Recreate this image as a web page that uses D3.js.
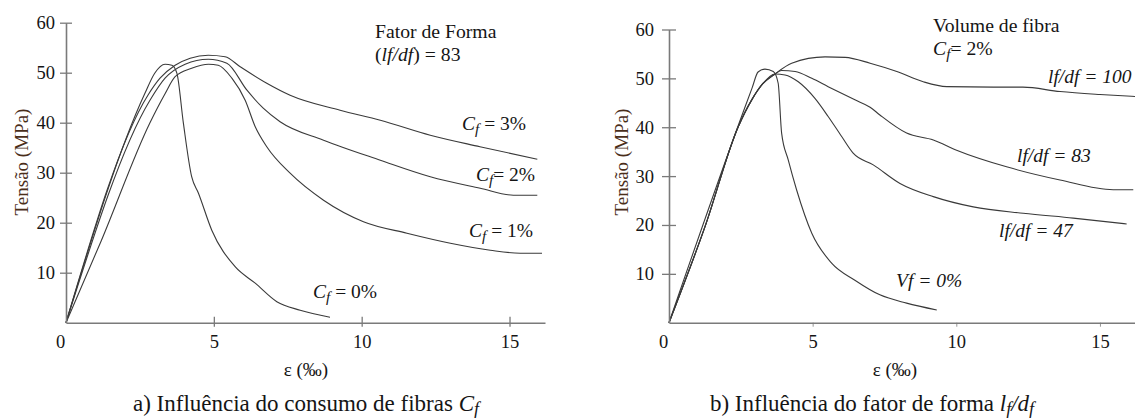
<!DOCTYPE html>
<html>
<head>
<meta charset="utf-8">
<script src="https://cdn.jsdelivr.net/npm/d3@7"></script>
<style>
  html, body { margin: 0; padding: 0; background: #fff; }
  svg, svg text { font-family: "Liberation Serif", Tinos, "Times New Roman", Times, serif; }
</style>
</head>
<body>
<svg id="chart" width="1135" height="418"></svg>
<script>
// Axis ticks (strain in per mille, stress in MPa)
const strainTicks = [0, 5, 10, 15];
const stressTicks = [10, 20, 30, 40, 50, 60];

// a) Fibre content C_f, aspect ratio lf/df = 83  — [strain ‰, stress MPa]
const cf0 = [[0,0],[2.67,45.9],[3.0,49.9],[3.35,51.7],[3.58,51.5],[3.75,49.9],[3.97,39.9],[4.25,29.2],[4.48,25.9],[4.93,18.5],[5.72,11.2],[6.4,7.9],[7.13,4.2],[7.92,2.5],[8.93,1.1]];
const cf1 = [[0,0],[1.2,16.5],[2.84,40],[3.35,45.8],[3.69,49.2],[4.25,50.9],[4.82,51.7],[5.15,51.5],[5.61,48.9],[6.06,44.5],[6.4,39.2],[6.79,35.2],[7.58,29.9],[8.71,24.5],[10.06,20.2],[11.53,17.9],[13.0,15.9],[14.35,14.5],[15.36,13.9],[16.1,13.9]];
const cf2 = [[0,0],[2.84,44.5],[3.35,48.9],[4.03,51.7],[4.81,52.7],[5.44,51.9],[6.12,46.5],[6.67,42.9],[7.24,40.2],[8.71,36.5],[10.63,32.5],[12.32,29.2],[14.01,26.9],[15.13,25.5],[15.94,25.5]];
const cf3 = [[0,0],[2.77,45.5],[3.18,48.9],[3.69,51.5],[4.2,52.9],[4.81,53.5],[5.38,53.2],[5.89,51.2],[6.79,47.9],[7.58,45.5],[9.27,42.5],[10.63,40.5],[12.32,37.5],[14.0,35.2],[15.94,32.7]];

// b) Aspect ratio lf/df, fibre content C_f = 2%
const vf0 = [[0,0],[2.65,44.2],[2.89,48.0],[3.1,51.3],[3.34,51.9],[3.63,51.4],[3.8,49.0],[3.92,38.8],[4.15,33.3],[4.44,27.2],[4.97,18.3],[5.66,12.2],[6.47,8.7],[7.34,5.7],[8.27,4.0],[9.32,2.6]];
const lfdf47 = [[0,0],[1.25,19.6],[2.41,40.1],[2.88,45.6],[3.25,48.8],[3.69,50.9],[4.04,50.7],[4.5,49.3],[5.08,45.9],[5.54,42.2],[6.01,38.1],[6.41,34.7],[7.11,32.3],[8.04,28.5],[9.2,25.8],[10.59,23.7],[12.33,22.4],[14.07,21.4],[15.93,20.2]];
const lfdf83 = [[0,0],[1.25,19.6],[2.41,40.1],[2.88,45.6],[3.25,48.8],[3.69,50.9],[3.92,51.6],[4.39,51.4],[4.97,50.0],[5.54,48.3],[6.47,45.6],[7.0,44.1],[7.34,42.5],[8.27,38.8],[9.2,37.4],[10.01,35.3],[11.75,31.9],[13.61,29.2],[15.46,27.2],[16.16,27.2]];
const lfdf100 = [[0,0],[1.25,19.6],[2.41,40.1],[2.88,45.6],[3.25,48.8],[3.69,50.9],[4.27,53.1],[5.43,54.4],[6.13,54.3],[7.0,53.1],[7.93,51.4],[8.85,49.3],[9.67,48.3],[11.29,48.2],[12.32,48.2],[13.61,47.3],[15.0,46.7],[16.22,46.3]];

const FONT = '"Liberation Serif", Tinos, "Times New Roman", Times, serif';
const svg = d3.select("#chart");
const axisColor = "#7a7a7a";
const lineColor = "#3a3a3a";
const textColor = "#151515";

function drawPanel(opt) {
  const x = d3.scaleLinear().domain(opt.xDomain).range(opt.xRange);
  const y = d3.scaleLinear().domain([0, 60]).range(opt.yRange);
  const g = svg.append("g");

  // curves
  const line = d3.line().x(d => x(d[0])).y(d => y(d[1])).curve(d3.curveMonotoneX);
  g.selectAll("path.curve").data(opt.series).join("path")
    .attr("class", "curve")
    .attr("d", d => line(d))
    .attr("fill", "none")
    .attr("stroke", lineColor)
    .attr("stroke-width", 1.1);

  // y axis, ticks crossing the axis line
  const yAxis = d3.axisLeft(y).tickValues(stressTicks).tickSize(opt.yTick).tickSizeOuter(0).tickPadding(opt.yPad);
  const gy = g.append("g").attr("transform", `translate(${x(0)},0)`).call(yAxis);
  gy.selectAll(".tick line").attr("x1", opt.yTick);
  // x axis
  const xAxis = d3.axisBottom(x).tickValues(strainTicks).tickSize(opt.xTickDown).tickSizeOuter(0).tickPadding(opt.xPad);
  const gx = g.append("g").attr("transform", `translate(0,${y(0)})`).call(xAxis);
  gx.selectAll(".tick line").attr("y1", -opt.xTickUp).attr("stroke-width", opt.xTickWidth);
  gx.selectAll(".tick").filter(d => d === 0).select("line").remove();
  gx.selectAll(".tick").filter(d => d === 0).select("text").attr("dx", -6);

  [gy, gx].forEach(a => {
    a.attr("font-family", FONT);
    a.select(".domain").attr("stroke", axisColor).attr("stroke-width", 1.6);
    a.selectAll(".tick line").attr("stroke", axisColor);
    a.selectAll(".tick text").attr("fill", textColor).attr("font-size", 18.5).attr("font-family", FONT);
  });
  gy.selectAll(".tick line").attr("stroke-width", 1.3);

  // axis titles
  g.append("text")
    .attr("transform", `translate(${opt.yTitleX},${opt.yTitleY}) rotate(-90)`)
    .attr("text-anchor", "middle")
    .attr("fill", "#4a2e1a")
    .attr("font-family", FONT)
    .attr("font-size", 19)
    .text("Tensão (MPa)");
  g.append("text")
    .attr("x", opt.xTitleX).attr("y", 376)
    .attr("text-anchor", "middle")
    .attr("fill", textColor)
    .attr("font-family", FONT)
    .attr("font-size", 19)
    .text("ε (‰)");
  return { x, y, g };
}

// Mixed upright / italic / subscript text
function richText(parent, xPos, yPos, parts, size, anchor) {
  const t = parent.append("text")
    .attr("x", xPos).attr("y", yPos)
    .attr("fill", textColor)
    .attr("text-anchor", anchor || "start")
    .attr("font-family", FONT)
    .attr("font-size", size);
  parts.forEach(p => {
    const s = t.append("tspan").text(p.t);
    if (p.i) s.attr("font-style", "italic");
    if (p.sub) s.attr("dy", size * 0.18).attr("font-size", size * 0.78);
    if (p.up) s.attr("dy", -size * 0.18);
  });
  return t;
}

// ---- Panel a ----
const pa = drawPanel({
  series: [cf0, cf1, cf2, cf3],
  xDomain: [0, 16.2], xRange: [66, 545],
  yRange: [322.7, 22.7],
  yTick: 6, yPad: 5,
  xTickDown: 4, xTickUp: 6, xPad: 8, xTickWidth: 1.3,
  yTitleX: 28, yTitleY: 162, xTitleX: 306
});
richText(pa.g, 375, 38, [{t: "Fator de Forma"}], 19.7);
richText(pa.g, 375, 61, [{t: "("}, {t: "lf/df", i: true}, {t: ") = 83"}], 19.7);
richText(pa.g, 462, 130, [{t: "C", i: true}, {t: "f", i: true, sub: true}, {t: " = 3%", up: true}], 19.5);
richText(pa.g, 476, 181, [{t: "C", i: true}, {t: "f", i: true, sub: true}, {t: "= 2%", up: true}], 19.5);
richText(pa.g, 469, 237, [{t: "C", i: true}, {t: "f", i: true, sub: true}, {t: " = 1%", up: true}], 19.5);
richText(pa.g, 313, 298, [{t: "C", i: true}, {t: "f", i: true, sub: true}, {t: " = 0%", up: true}], 19.5);
richText(svg, 306, 411, [{t: "a) Influência do consumo de fibras "}, {t: "C", i: true}, {t: "f", i: true, sub: true}], 23, "middle");

// ---- Panel b ----
const pb = drawPanel({
  series: [vf0, lfdf47, lfdf83, lfdf100],
  xDomain: [0, 16.22], xRange: [669, 1135],
  yRange: [322.7, 29.5],
  yTick: 7, yPad: 8,
  xTickDown: 4, xTickUp: 0, xPad: 8, xTickWidth: 0.8,
  yTitleX: 628, yTitleY: 162, xTitleX: 895
});
richText(pb.g, 933, 32, [{t: "Volume de fibra"}], 19.7);
richText(pb.g, 933, 55, [{t: "C", i: true}, {t: "f", i: true, sub: true}, {t: "= 2%", up: true}], 19.7);
richText(pb.g, 1048, 83, [{t: "lf/df = 100", i: true}], 19.5);
richText(pb.g, 1017, 162, [{t: "lf/df = 83", i: true}], 19.5);
richText(pb.g, 999, 237, [{t: "lf/df = 47", i: true}], 19.5);
richText(pb.g, 896, 287, [{t: "Vf = 0%", i: true}], 19.5);
richText(svg, 872, 411, [{t: "b) Influência do fator de forma "}, {t: "l", i: true}, {t: "f", i: true, sub: true}, {t: "/", i: true, up: true}, {t: "d", i: true}, {t: "f", i: true, sub: true}], 23, "middle");
</script>
</body>
</html>
